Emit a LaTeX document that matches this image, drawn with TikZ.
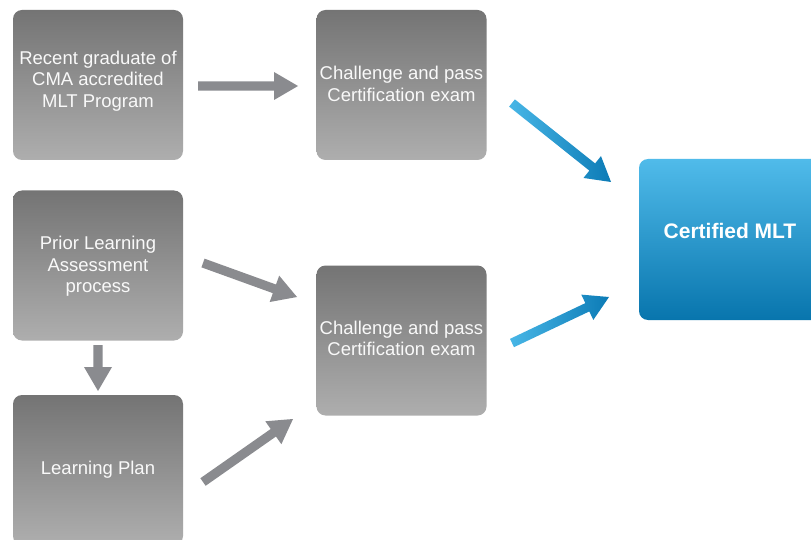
\documentclass[tikz,border=0pt]{standalone}
\usepackage{fontspec}
\setmainfont{Liberation Sans}
\usetikzlibrary{arrows.meta,calc}
\definecolor{boxtop}{HTML}{747474}
\definecolor{boxbot}{HTML}{AEAEAE}
\definecolor{arrowgray}{HTML}{8A8B8F}
\definecolor{bluetop}{HTML}{50BBEA}
\definecolor{bluebot}{HTML}{0875AD}
\definecolor{arrowlight}{HTML}{48B6E6}
\definecolor{arrowdark}{HTML}{0C7BB6}
\newcommand{\fatarrow}[3]{%
  \coordinate (hb) at ($(#3)!24pt!(#2)$);
  \path[#1] ($(#2)!4.6pt!90:(#3)$) -- ($(hb)!4.6pt!-90:(#2)$) -- ($(hb)!14pt!-90:(#2)$)
    -- (#3) -- ($(hb)!14pt!90:(#2)$) -- ($(hb)!4.6pt!90:(#2)$) -- ($(#2)!4.6pt!-90:(#3)$) -- cycle;
}
\begin{document}
\begin{tikzpicture}[x=1pt,y=-1pt,
  graybox/.style={rounded corners=9pt, minimum width=170pt, minimum height=150pt,
    top color=boxtop, bottom color=boxbot, inner sep=0pt},
  boxtext/.style={text=white!95!gray, align=center,
    font=\fontsize{18.5}{21.5}\selectfont, inner sep=0pt},
  bluebox/.style={rounded corners=9pt, minimum width=182pt, minimum height=161pt,
    top color=bluetop, bottom color=bluebot, inner sep=0pt},
  certtext/.style={text=white, font=\bfseries\fontsize{21}{24}\selectfont},
  grayfill/.style={fill=arrowgray},
  bluefill/.style={left color=arrowlight, right color=arrowdark}]
\useasboundingbox (0,0) rectangle (811,540);
\clip (0,0) rectangle (811,540);
\fill[white] (0,0) rectangle (811,540);

\node[graybox, label={[boxtext, yshift=4pt]center:{Recent graduate of\\CMA accredited\\MLT Program}}] (grad) at (98,85) {};
\node[graybox, label={[boxtext, yshift=1pt]center:{Challenge and pass\\Certification exam}}] (exam1) at (401.5,85) {};
\node[graybox, label={[boxtext, yshift=-1pt]center:{Prior Learning\\Assessment\\process}}] (pla) at (98,265.5) {};
\node[graybox, label={[boxtext]center:{Learning Plan}}] (plan) at (98,470) {};
\node[graybox, label={[boxtext, yshift=2pt]center:{Challenge and pass\\Certification exam}}] (exam2) at (401.5,340.5) {};
\node[bluebox, label={[certtext, yshift=8.5pt]center:Certified MLT}] (cert) at (730,239.5) {};

\coordinate (a1s) at (198,86);   \coordinate (a1e) at (298,86);
\coordinate (a2s) at (203,263);  \coordinate (a2e) at (297,297);
\coordinate (a3s) at (98,345);   \coordinate (a3e) at (98,391);
\coordinate (a4s) at (203,482);  \coordinate (a4e) at (293,419);
\coordinate (b1s) at (512,103);  \coordinate (b1e) at (611,182);
\coordinate (b2s) at (512,343);  \coordinate (b2e) at (609,297);

\fatarrow{grayfill}{a1s}{a1e}
\fatarrow{grayfill}{a2s}{a2e}
\fatarrow{grayfill}{a3s}{a3e}
\fatarrow{grayfill}{a4s}{a4e}
\fatarrow{bluefill}{b1s}{b1e}
\fatarrow{bluefill}{b2s}{b2e}
\end{tikzpicture}
\end{document}
